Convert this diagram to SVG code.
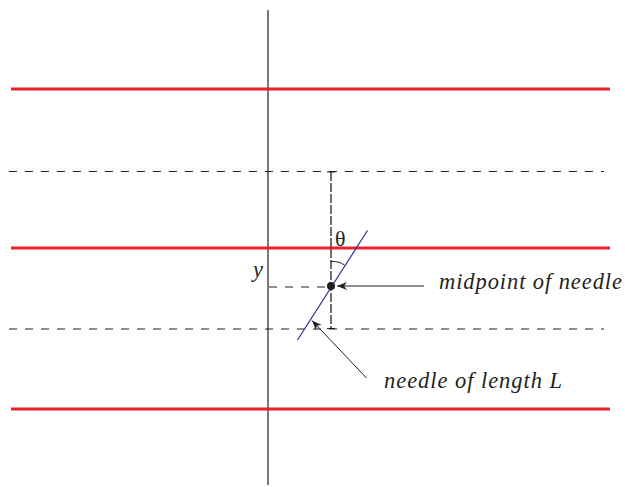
<svg xmlns="http://www.w3.org/2000/svg" width="625" height="487" viewBox="0 0 625 487">
<defs>
<marker id="ah" viewBox="0 0 10 10" refX="10" refY="5" markerWidth="10" markerHeight="10" markerUnits="userSpaceOnUse" orient="auto">
<path d="M0,1 L10,5 L0,9 L3,5 Z" fill="#231f20"/>
</marker>
<style>
.red{stroke:#e8202a;stroke-width:3;fill:none}
.dash{stroke:#231f20;stroke-width:1;stroke-dasharray:8 8;fill:none}
.ax{stroke:#231f20;stroke-width:1.2;fill:none}
.lbl{font-family:"Liberation Serif",serif;font-style:italic;font-size:22.5px;fill:#231f20}
</style>
</defs>
<rect width="625" height="487" fill="#fff"/>
<g id="axis"><line class="ax" x1="268" y1="10" x2="268" y2="485"/></g>
<g id="red-lines">
<line class="red" x1="11" y1="89" x2="610" y2="89"/>
<line class="red" x1="11" y1="248" x2="610" y2="248"/>
<line class="red" x1="11" y1="409" x2="610" y2="409"/>
</g>
<g id="dashed-lines">
<line class="dash" x1="9" y1="171.5" x2="604" y2="171.5"/>
<line class="dash" x1="9" y1="329" x2="604" y2="329"/>
<line class="dash" x1="269" y1="287" x2="331" y2="287"/>
<line x1="331" y1="172" x2="331" y2="329" stroke="#231f20" stroke-width="1.3" stroke-dasharray="9 2"/>
<line x1="327" y1="172" x2="335" y2="172" stroke="#231f20" stroke-width="1"/>
<line x1="327" y1="328.5" x2="335" y2="328.5" stroke="#231f20" stroke-width="1"/>
</g>
<g id="needle">
<line x1="297.5" y1="340" x2="367.5" y2="230.5" stroke="#2e3192" stroke-width="1.2"/>
<circle cx="331" cy="286" r="4" fill="#231f20"/>
<path d="M331,261.5 Q339,261 344.5,265" fill="none" stroke="#231f20" stroke-width="1"/>
</g>
<g id="connectors">
<line x1="424" y1="286" x2="337" y2="286" stroke="#231f20" stroke-width="1" marker-end="url(#ah)"/>
<line x1="366.5" y1="378" x2="312" y2="320.5" stroke="#231f20" stroke-width="1" marker-end="url(#ah)"/>
</g>
<g id="labels">
<text class="lbl" x="253" y="277">y</text>
<text x="335" y="246" font-family="Liberation Serif,serif" font-size="22" fill="#231f20">θ</text>
<text class="lbl" x="439" y="288.5" textLength="183" lengthAdjust="spacing">midpoint of needle</text>
<text class="lbl" x="384" y="388" textLength="178" lengthAdjust="spacing">needle of length L</text>
</g>
</svg>
